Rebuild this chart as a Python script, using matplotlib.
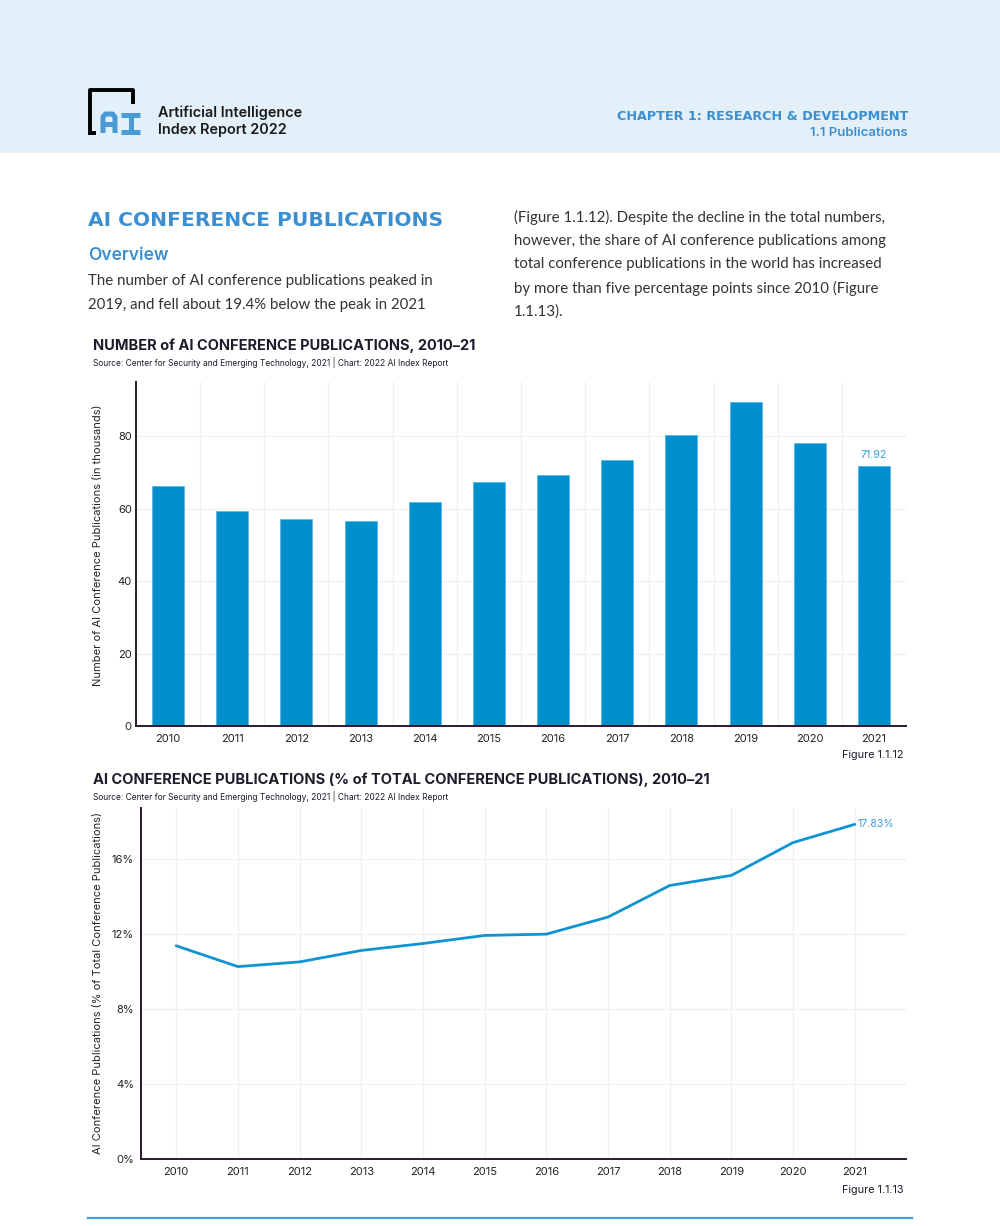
"""AI Index 2022 - AI conference publications page (Fig 1.1.12 / 1.1.13)."""
import matplotlib
matplotlib.use("Agg")
import matplotlib.pyplot as plt
import numpy as np

# ── data ──
years = [2010, 2011, 2012, 2013, 2014, 2015, 2016, 2017, 2018, 2019, 2020, 2021]
pubs_k = [66.4, 59.4, 57.3, 56.7, 61.9, 67.5, 69.2, 73.5, 80.3, 89.6, 78.1, 71.92]
share_pct = [11.36, 10.25, 10.5, 11.11, 11.48, 11.91, 11.98, 12.89, 14.57, 15.11, 16.86, 17.83]

BLUE_HEAD = "#3b8fd0"
BAR = "#008fcd"
LINE = "#0f94d2"
LBL = "#3a9ad9"
SPINE = "#2a1a2c"
GRID = "#f0f0f0"
DARK = "#1c1c2a"
SANS = ["Inter", "DejaVu Sans"]

fig = plt.figure(figsize=(10, 12.26), dpi=100)
fig.patch.set_facecolor("white")

# page layer in pixel coords (y down)
page = fig.add_axes([0, 0, 1, 1], zorder=0)
page.set_xlim(0, 1000); page.set_ylim(1226, 0); page.axis("off")

# ── header band ──
page.add_patch(plt.Rectangle((0, 0), 1000, 153, fc="#e3f0fa", ec="none"))
# logo bracket
k = dict(color="black", lw=2.8, solid_capstyle="butt")
page.plot([89.5, 89.5, 132.5, 132.5], [133, 89.5, 89.5, 104], **k)
page.plot([88, 96], [132.5, 132.5], **k)
b = dict(color="#4a9ad6", lw=3.6, solid_capstyle="butt", solid_joinstyle="round")
page.plot([103, 103, 105.5, 112.5, 115, 115], [133, 117, 114, 114, 117, 133], **b)
page.plot([103, 115], [124, 124], **b)
page.plot([121, 140], [114.5, 114.5], **b)
page.plot([130.5, 130.5], [114.5, 131.5], **b)
page.plot([121, 140], [131.5, 131.5], **b)
page.text(158, 113, "Artificial Intelligence", fontsize=10.4, family=SANS, weight="semibold",
          color="#1a1a1a", va="center")
page.text(158, 130, "Index Report 2022", fontsize=10.4, family=SANS, weight="semibold",
          color="#1a1a1a", va="center")
page.text(908, 116, "CHAPTER 1: RESEARCH & DEVELOPMENT", fontsize=9.2, family="DejaVu Sans",
          weight="bold", color=BLUE_HEAD, ha="right", va="center")
page.text(908, 133, "1.1 Publications", fontsize=9.5, family=SANS, weight="semibold",
          color=BLUE_HEAD, ha="right", va="center")

# ── intro text ──
page.text(88, 220, "AI CONFERENCE PUBLICATIONS", fontsize=14.6, family="DejaVu Sans",
          weight="bold", color=BLUE_HEAD, va="center")
page.text(88, 256, "Overview", fontsize=12.5, family=SANS, weight="semibold",
          color=BLUE_HEAD, va="center")
body = dict(fontsize=10.8, family=["Lato", "DejaVu Sans"], color="#333333", va="center")
page.text(88, 281, "The number of AI conference publications peaked in", **body)
page.text(88, 305, "2019, and fell about 19.4% below the peak in 2021", **body)
right_col = ["(Figure 1.1.12). Despite the decline in the total numbers,",
             "however, the share of AI conference publications among",
             "total conference publications in the world has increased",
             "by more than five percentage points since 2010 (Figure",
             "1.1.13)."]
for i, line in enumerate(right_col):
    page.text(514, 217 + i * 23.7, line, **body)

# ── chart titles ──
page.text(93, 346, "NUMBER of AI CONFERENCE PUBLICATIONS, 2010\u201321", fontsize=10.5,
          family=SANS, weight="bold", color=DARK, va="center")
page.text(93, 362, "Source: Center for Security and Emerging Technology, 2021 | Chart: 2022 AI Index Report",
          fontsize=6.05, family=SANS, color=DARK, va="center")
page.text(93, 780, "AI CONFERENCE PUBLICATIONS (% of TOTAL CONFERENCE PUBLICATIONS), 2010\u201321",
          fontsize=10.55, family=SANS, weight="bold", color=DARK, va="center")
page.text(93, 796, "Source: Center for Security and Emerging Technology, 2021 | Chart: 2022 AI Index Report",
          fontsize=6.05, family=SANS, color=DARK, va="center")
page.text(904, 755, "Figure 1.1.12", fontsize=7.8, family=SANS, color=DARK, ha="right", va="center")
page.text(904, 1190, "Figure 1.1.13", fontsize=7.8, family=SANS, color=DARK, ha="right", va="center")
page.plot([88, 912], [1218, 1218], color="#4a9ad6", lw=1.6)


def style(ax):
    for s in ("top", "right"):
        ax.spines[s].set_visible(False)
    for s in ("left", "bottom"):
        ax.spines[s].set_color(SPINE); ax.spines[s].set_linewidth(1.4)
    ax.tick_params(length=0, labelsize=8.0, colors="#222222", pad=3)
    ax.tick_params(axis="x", pad=5.5)
    for t in ax.get_xticklabels() + ax.get_yticklabels():
        t.set_family(SANS)
    ax.set_axisbelow(True)


# ── Figure 1.1.12 : bars ──
ax1 = fig.add_axes([0.136, 1 - 726 / 1226, 0.770, 344 / 1226], zorder=2)
x = np.arange(len(years))
ax1.bar(x, pubs_k, width=0.5, color=BAR, edgecolor="#5ab7e5", lw=0.6)
ax1.set_xlim(-0.5, 11.5); ax1.set_ylim(0, 95)
ax1.set_xticks(x, [str(y) for y in years])
ax1.set_xticks(np.arange(0.5, 11.5, 1), minor=True)
ax1.set_yticks([0, 20, 40, 60, 80])
ax1.tick_params(which="minor", length=0)
ax1.grid(axis="y", color=GRID, lw=1)
ax1.grid(axis="x", which="minor", color=GRID, lw=1)
ax1.set_ylabel("Number of AI Conference Publications (in thousands)", fontsize=8.0,
               family=SANS, color="#222222")
ax1.yaxis.set_label_coords((103 - 136) / 770, 0.525)
style(ax1)
ax1.text(x[-1], pubs_k[-1] + 1.5, f"{pubs_k[-1]:.2f}", ha="center", va="bottom",
         fontsize=7.6, family=SANS, color=LBL)

# ── Figure 1.1.13 : line ──
ax2 = fig.add_axes([0.141, 1 - 1159 / 1226, 0.765, 351 / 1226], zorder=2)
ax2.plot(x, share_pct, color=LINE, lw=2.0, solid_capstyle="round")
ax2.set_xlim(-0.57, 11.83); ax2.set_ylim(0, 18.7)
ax2.set_xticks(x, [str(y) for y in years])
ax2.set_yticks([0, 4, 8, 12, 16], ["0%", "4%", "8%", "12%", "16%"])
ax2.grid(color=GRID, lw=1)
ax2.set_ylabel("AI Conference Publications (% of Total Conference Publications)", fontsize=8.0,
               family=SANS, color="#222222")
ax2.yaxis.set_label_coords((103 - 141) / 765, 0.5)
style(ax2)
ax2.tick_params(axis="y", pad=5)
ax2.text(x[-1] + 0.05, share_pct[-1], f"{share_pct[-1]:.2f}%", ha="left", va="center",
         fontsize=7.6, family=SANS, color=LBL)

fig.savefig("out.png", dpi=100)
